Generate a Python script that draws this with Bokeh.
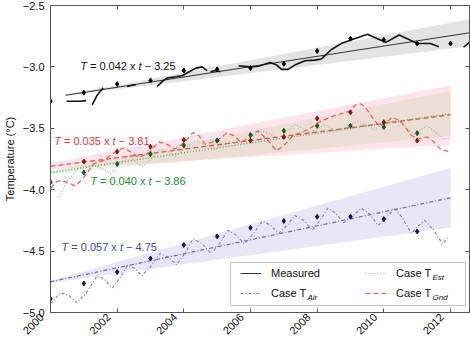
import math
from bokeh.plotting import figure
from bokeh.models import (Range1d, LinearAxis, FixedTicker, CustomJSTickFormatter,
                          Legend, LegendItem, BoxAnnotation, Label)
from bokeh.embed import file_html
from bokeh.resources import INLINE

nan = float("nan")

# ---------------- data ----------------
x_ticks = [2000, 2002, 2004, 2006, 2008, 2010, 2012]
y_ticks = [-5.0, -4.5, -4.0, -3.5, -3.0, -2.5]

# measured continuous record (gaps = nan)
meas_t = [2000.48, 2000.7, 2000.9, 2001.07, nan,
          2001.25, 2001.4, 2001.58, nan,
          2002.3, 2002.45, 2002.56, nan,
          2003.2, 2003.35, 2003.5, 2003.76, 2003.96, 2004.16, 2004.36, 2004.55, 2004.7, nan,
          2004.8, 2004.95, 2005.1, nan,
          2005.64, 2005.99, 2006.24, 2006.59, 2006.79, 2006.93, 2007.13, 2007.33, 2007.63,
          2007.93, 2008.13, 2008.42, 2008.72, 2009.12, 2009.51, 2009.81, 2010.06, 2010.46,
          2010.7, 2011.0, 2011.4, 2011.65, nan,
          2012.39, 2012.57]
meas_T = [-3.28, -3.28, -3.28, -3.275, nan,
          -3.31, -3.23, -3.17, nan,
          -3.16, -3.15, -3.145, nan,
          -3.16, -3.12, -3.09, -3.08, -3.07, -3.04, -3.01, -3.0, -3.03, nan,
          -3.04, -3.03, -3.04, nan,
          -2.99, -3.0, -2.995, -2.965, -2.985, -3.02, -3.02, -2.985, -2.95,
          -2.945, -2.935, -2.86, -2.81, -2.77, -2.735, -2.77, -2.80, -2.74,
          -2.77, -2.81, -2.81, -2.835, nan,
          -2.84, -2.80]
meas_years = [2000, 2001, 2002, 2003, 2004, 2005, 2006, 2007, 2008, 2009, 2010, 2011, 2012]
meas_annual = [-3.28, -3.21, -3.14, -3.11, -3.03, -3.02, -3.01, -2.975, -2.87, -2.77, -2.78, -2.81, -2.81]

# Case T_Gnd (red)
gnd_t = [2000.0, 2000.15, 2000.3, 2000.5, 2000.75, 2001.0, 2001.3, 2001.6, 2001.8, 2002.0,
         2002.2, 2002.45, 2002.65, 2002.95, 2003.25, 2003.5, 2003.72, 2004.0, 2004.28, 2004.45,
         2004.65, 2005.0, 2005.3, 2005.5, 2005.72, 2006.0, 2006.22, 2006.5, 2006.78, 2007.0,
         2007.28, 2007.73, 2008.12, 2008.5, 2008.97, 2009.15, 2009.3, 2009.45, 2009.6, 2009.85,
         2010.05, 2010.25, 2010.5, 2010.8, 2011.0, 2011.15, 2011.3, 2011.5, 2011.7, 2011.95]
gnd_T = [-3.99, -3.94, -3.925, -3.94, -3.97, -3.90, -3.79, -3.76, -3.72, -3.68,
         -3.66, -3.70, -3.74, -3.70, -3.61, -3.63, -3.67, -3.62, -3.535, -3.56,
         -3.63, -3.60, -3.535, -3.56, -3.615, -3.57, -3.52, -3.59, -3.685, -3.64,
         -3.56, -3.51, -3.44, -3.40, -3.36, -3.31, -3.30, -3.33, -3.39, -3.48,
         -3.46, -3.41, -3.44, -3.55, -3.59, -3.58, -3.57, -3.61, -3.67, -3.69]
gnd_years = [2000, 2001, 2002, 2003, 2004, 2005, 2006, 2007, 2008, 2009, 2010, 2011]
gnd_annual = [-3.94, -3.77, -3.69, -3.65, -3.595, -3.60, -3.60, -3.57, -3.42, -3.37, -3.45, -3.60]

# Case T_Est (green)
est_t = [2000.25, 2000.5, 2000.8, 2001.05, 2001.3, 2001.55, 2001.8, 2002.05, 2002.3, 2002.5,
         2002.75, 2003.05, 2003.3, 2003.5, 2003.75, 2004.05, 2004.35, 2004.65, 2004.95, 2005.35,
         2005.8, 2006.05, 2006.34, 2006.6, 2006.84, 2007.1, 2007.33, 2007.55, 2007.78, 2008.25,
         2008.6, 2008.9, 2009.22, 2009.45, 2009.71, 2010.05, 2010.4, 2010.65, 2010.9, 2011.3,
         2011.55, 2011.8, 2011.95]
est_T = [-4.06, -3.93, -3.84, -3.81, -3.80, -3.83, -3.87, -3.80, -3.73, -3.76,
         -3.81, -3.74, -3.67, -3.69, -3.73, -3.66, -3.60, -3.63, -3.67, -3.61,
         -3.63, -3.57, -3.52, -3.55, -3.59, -3.52, -3.47, -3.50, -3.535, -3.47,
         -3.53, -3.48, -3.44, -3.47, -3.51, -3.46, -3.43, -3.49, -3.55, -3.48,
         -3.53, -3.59, -3.58]
est_years = [2001, 2002, 2003, 2004, 2005, 2006, 2007, 2008, 2009, 2010, 2011]
est_annual = [-3.86, -3.79, -3.71, -3.64, -3.60, -3.555, -3.52, -3.48, -3.48, -3.49, -3.54]

# Case T_Air (blue)
air_t = [2000.0, 2000.3, 2000.55, 2000.8, 2001.1, 2001.4, 2001.62, 2001.85, 2002.08, 2002.3,
         2002.52, 2002.74, 2003.0, 2003.28, 2003.53, 2003.78, 2004.03, 2004.28, 2004.55, 2004.82,
         2005.07, 2005.32, 2005.57, 2005.81, 2006.08, 2006.36, 2006.6, 2006.85, 2007.1, 2007.33,
         2007.6, 2007.85, 2008.08, 2008.32, 2008.55, 2008.79, 2009.05, 2009.32, 2009.58, 2009.83,
         2010.07, 2010.31, 2010.56, 2010.82, 2011.02, 2011.22, 2011.5, 2011.76, 2011.96]
air_T = [-4.93, -4.84, -4.86, -4.92, -4.83, -4.70, -4.73, -4.80, -4.72, -4.62,
         -4.64, -4.70, -4.63, -4.52, -4.55, -4.61, -4.52, -4.40, -4.44, -4.52,
         -4.44, -4.33, -4.37, -4.44, -4.36, -4.255, -4.29, -4.355, -4.29, -4.21,
         -4.25, -4.33, -4.25, -4.15, -4.19, -4.27, -4.22, -4.15, -4.20, -4.29,
         -4.23, -4.15, -4.23, -4.355, -4.30, -4.25, -4.33, -4.44, -4.38]
air_years = [2000, 2001, 2002, 2003, 2004, 2005, 2006, 2007, 2008, 2009, 2010, 2011]
air_annual = [-4.89, -4.764, -4.67, -4.56, -4.45, -4.38, -4.31, -4.255, -4.22, -4.22, -4.24, -4.34]

# linear fits T = slope * t + intercept (t in years since 2000) and their bands
meas_fit = (0.042, -3.25)
gnd_fit = (0.035, -3.81)
est_fit = (0.040, -3.86)
air_fit = (0.057, -4.75)
meas_band = (0.0088, 0.0)     # slope uncertainty, offset uncertainty
gnd_band = (0.018, 0.025)
est_band = (0.0140, 0.015)
air_band = (0.0195, 0.008)

# ---------------- style ----------------
FONT = "Liberation Sans"
RED, GREEN, BLUE, BLACK = "#e8383c", "#238a32", "#3c46aa", "#111111"

p = figure(width=470, height=343, x_range=Range1d(2000, 2012.57), y_range=Range1d(-5.0, -2.5),
           output_backend="svg", toolbar_location=None,
           min_border_left=47, min_border_right=1, min_border_top=5, min_border_bottom=28)
p.outline_line_color = None
p.grid.visible = False
p.background_fill_color = "white"
p.border_fill_color = "white"


def style_axis(ax, labels=True):
    ax.axis_line_color = "#555555"
    ax.major_tick_line_color = "#555555"
    ax.major_tick_in = 4
    ax.major_tick_out = 0
    ax.minor_tick_line_color = None
    ax.major_label_text_font = FONT
    ax.major_label_text_font_size = "11px" if labels else "0px"
    ax.major_label_text_color = "#111111"
    ax.major_label_standoff = 6 if labels else 0


empty = CustomJSTickFormatter(code="return '';")
xax = p.xaxis[0]
yax = p.yaxis[0]
xax.ticker = FixedTicker(ticks=x_ticks)
# trailing no-break spaces push the rotated year so that its end sits at the tick
xax.formatter = CustomJSTickFormatter(code="return tick.toFixed(0) + '\\u00a0\\u00a0\\u00a0\\u00a0';")
yax.ticker = FixedTicker(ticks=y_ticks)
yax.formatter = CustomJSTickFormatter(code="return (tick < 0 ? '\\u2212' : '') + Math.abs(tick).toFixed(1);")
style_axis(xax)
style_axis(yax)
xax.major_label_orientation = math.pi / 4
xax.major_label_standoff = -6
yax.axis_label = "Temperature (°C)"
yax.axis_label_text_font = FONT
yax.axis_label_text_font_style = "normal"
yax.axis_label_text_font_size = "11px"
yax.axis_label_text_color = "#111111"
yax.axis_label_standoff = 4

top = LinearAxis(ticker=FixedTicker(ticks=x_ticks), formatter=empty)
right = LinearAxis(ticker=FixedTicker(ticks=y_ticks), formatter=empty)
style_axis(top, False)
style_axis(right, False)
p.add_layout(top, "above")
p.add_layout(right, "right")


def band(fit, unc, t0, t1, color, alpha):
    s, b = fit
    ds, db = unc
    xs = [t0, t1]
    lo = [(s - ds) * (x - 2000) + b - db for x in xs]
    hi = [(s + ds) * (x - 2000) + b + db for x in xs]
    p.varea(x=xs, y1=lo, y2=hi, fill_color=color, fill_alpha=alpha)


def trend(fit, t0, t1, **kw):
    s, b = fit
    xs = [t0, t1]
    return p.line(xs, [s * (x - 2000) + b for x in xs], **kw)


# bands
band(air_fit, air_band, 2000, 2012, "#6a5acd", 0.15)
band(gnd_fit, gnd_band, 2000, 2012, "#ff3366", 0.13)
band(est_fit, est_band, 2000, 2012, "#a0c478", 0.20)
band(meas_fit, meas_band, 2000.45, 2012.57, "#c8c8c8", 0.5)

# trend lines
meas_tr = trend(meas_fit, 2000.45, 2012.57, line_color="#333333", line_width=1)
trend(air_fit, 2000, 2012, line_color="#6868b8", line_width=1.2, line_dash="4 2 1 2")
trend(gnd_fit, 2000, 2012, line_color=RED, line_width=1.3, line_dash="5 3", line_alpha=0.85)
trend(est_fit, 2000, 2012, line_color="#5aa05a", line_width=1.3, line_dash="1 2")

# series curves
air_r = p.line(air_t, air_T, line_color="#7c7cc4", line_width=1.1, line_dash="3 2 1 2")
est_r = p.line(est_t, est_T, line_color="#8cc08c", line_width=1.1, line_dash="1 2")
gnd_r = p.line(gnd_t, gnd_T, line_color="#ee5a5a", line_width=1.2, line_dash="5 3")
p.line(meas_t, meas_T, line_color=BLACK, line_width=1.6)

# annual points
p.scatter(meas_years, meas_annual, marker="diamond", size=5, color="#000000")
p.scatter(gnd_years, gnd_annual, marker="diamond", size=5, color="#8a1010")
p.scatter(est_years, est_annual, marker="diamond", size=5, color="#105a1c")
p.scatter(air_years, air_annual, marker="diamond", size=5, color="#12125a")

# equations
W = {'T': 611, ' ': 278, '=': 584, '.': 278, 'x': 500, 't': 278, '\u2212': 584}


def tw(s, size=11):
    return sum(W.get(c, 556) for c in s) * size / 1000.0


def equation(fit, x, y, color):
    s, b = fit
    mid = "= %.3f x" % s
    tail = "\u2212 %.2f" % abs(b)
    parts = [("T", "italic", 0.0),
             (mid, "normal", tw("T ")),
             ("t", "italic", tw("T " + mid + " ")),
             (tail, "normal", tw("T " + mid + " t "))]
    for txt, style, off in parts:
        p.add_layout(Label(x=x, y=y, x_offset=off, text=txt, text_font=FONT,
                           text_font_style=style, text_font_size="11px",
                           text_color=color, text_baseline="middle"))


equation(meas_fit, 2000.89, -2.99, BLACK)
equation(gnd_fit, 2000.11, -3.605, RED)
equation(est_fit, 2001.19, -3.93, GREEN)
equation(air_fit, 2000.33, -4.47, BLUE)

# legend: frame box + two columns
p.add_layout(BoxAnnotation(left=180, right=415, bottom=7, top=50,
                           left_units="screen", right_units="screen",
                           bottom_units="screen", top_units="screen",
                           fill_color="white", fill_alpha=1.0,
                           line_color="#333333", line_width=1))


def make_legend(items, loc):
    lg = Legend(items=items, location=loc, orientation="vertical", padding=0, margin=0,
                spacing=0, glyph_width=21, glyph_height=20, label_height=20,
                label_standoff=10, label_text_font=FONT, label_text_font_size="11px",
                label_text_color="#111111", border_line_alpha=0, background_fill_alpha=0)
    p.add_layout(lg)


make_legend([LegendItem(label="Measured", renderers=[meas_tr]),
             LegendItem(label="Case T", renderers=[air_r])], (190, 9))
make_legend([LegendItem(label="Case T", renderers=[est_r]),
             LegendItem(label="Case T", renderers=[gnd_r])], (315, 9))

for sub, sx, sy in [("Air", 257, 15), ("Est", 382, 35), ("Gnd", 382, 15)]:
    p.add_layout(Label(x=sx, y=sy, x_units="screen", y_units="screen", text=sub,
                       text_font=FONT, text_font_style="italic", text_font_size="8px",
                       text_color="#111111", text_baseline="middle"))

open("out.html", "w").write(file_html(p, INLINE))
